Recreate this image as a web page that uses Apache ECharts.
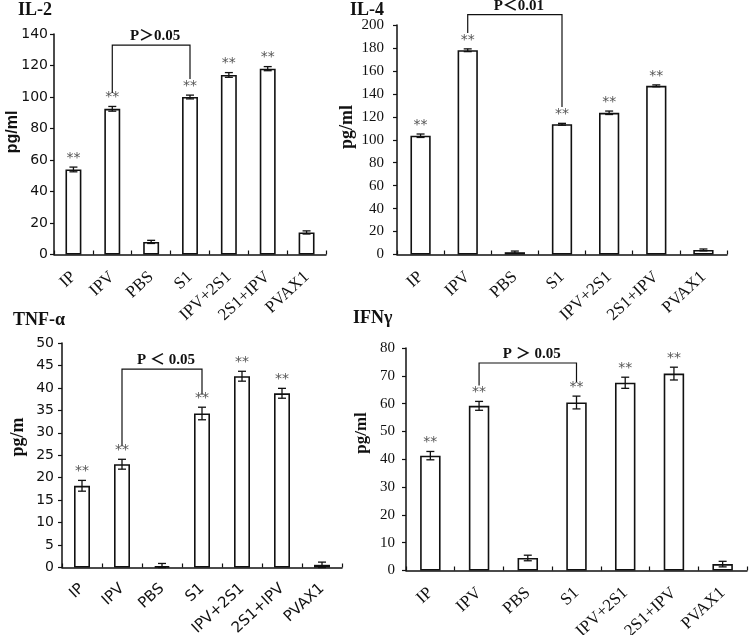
<!DOCTYPE html>
<html>
<head>
<meta charset="utf-8">
<script src="https://cdn.jsdelivr.net/npm/echarts@6/dist/echarts.min.js"></script>
<style>
html,body{margin:0;padding:0;background:#fff;}
#c{width:750px;height:635px;}
</style>
</head>
<body>
<div id="c"></div>
<script>
// ---- data ----
const categories = ['IP', 'IPV', 'PBS', 'S1', 'IPV+2S1', '2S1+IPV', 'PVAX1'];
const stars = ['**', '**', '', '**', '**', '**', ''];

const il2Mean = [54, 92.5, 8, 100, 114, 118, 14];
const il2Err  = [1.5, 1.5, 1, 1.2, 1.5, 1.3, 1];
const il4Mean = [103.5, 178, 2, 113.5, 123.5, 147, 4];
const il4Err  = [1.5, 1.2, 1, 0.8, 1.5, 0.8, 0.8];
const tnfMean = [18.2, 23, 0.3, 34.3, 42.6, 38.8, 0.6];
const tnfErr  = [1.2, 1.1, 0.6, 1.4, 1.1, 1.1, 0.6];
const ifnMean = [41.3, 59.2, 4.5, 60.4, 67.5, 70.8, 2.3];
const ifnErr  = [1.5, 1.6, 1, 2.3, 2, 2.3, 1];

// y-axis ticks [min, max, interval]
const il2Ticks = [0, 140, 20];
const il4Ticks = [0, 200, 20];
const tnfTicks = [0, 50, 5];
const ifnTicks = [0, 80, 10];

// significance brackets: [leftIndex, rightIndex, topValue, leftBottom, rightBottom]
const il2Bracket = [1, 3, 133, 102.5, 111.5];
const il4Bracket = [1, 3, 209, 193, 128.5];
const tnfBracket = [1, 3, 44.2, 27, 38.5];
const ifnBracket = [1, 3, 74.6, 66.5, 67.6];
const il2P = 'P＞0.05';
const il4P = 'P＜0.01';
const tnfP = 'P ＜ 0.05';
const ifnP = 'P ＞ 0.05';

const titles = ['IL-2', 'IL-4', 'TNF-α', 'IFNγ'];
const yNames = ['pg/ml', 'pg/ml', 'pg/m', 'pg/ml'];

// ---- layout / style ----
const SERIF = '"Liberation Serif","Times New Roman",serif';
const SANS = '"DejaVu Sans","Liberation Sans",sans-serif';
const panels = [
  {mean: il2Mean, err: il2Err, ticks: il2Ticks, br: il2Bracket, p: il2P,
   grid: {left: 54, top: 34, width: 272, height: 220.5}, barW: '41%',
   yFont: SANS, ySize: 14, xFont: SERIF, xSize: 17, xMargin: 20, yMargin: 6,
   title: [18, 10], yName: [12.5, 132], yNameFont: 'bold 16px "Liberation Sans",Arial,sans-serif'},
  {mean: il4Mean, err: il4Err, ticks: il4Ticks, br: il4Bracket, p: il4P,
   grid: {left: 397, top: 25, width: 330, height: 229.5}, barW: '43%',
   yFont: SERIF, ySize: 15, xFont: SERIF, xSize: 17, xMargin: 20, yMargin: 13,
   title: [350, 10], yName: [347, 127], yNameFont: 'bold 18px ' + SERIF},
  {mean: tnfMean, err: tnfErr, ticks: tnfTicks, br: tnfBracket, p: tnfP,
   grid: {left: 62, top: 343, width: 280, height: 224.5}, barW: '40%',
   yFont: SANS, ySize: 14, xFont: SANS, xSize: 15, xMargin: 19, yMargin: 8,
   title: [13, 320], yName: [18.5, 437], yNameFont: 'bold 18px ' + SERIF},
  {mean: ifnMean, err: ifnErr, ticks: ifnTicks, br: ifnBracket, p: ifnP,
   grid: {left: 406, top: 348, width: 341, height: 222.5}, barW: '42%',
   yFont: SERIF, ySize: 15, xFont: SERIF, xSize: 17, xMargin: 20, yMargin: 11,
   title: [353, 318], yName: [362, 433], yNameFont: 'bold 17px ' + SERIF}
];

const grid = [], xAxis = [], yAxis = [], series = [], graphic = [];
panels.forEach((pn, k) => {
  grid.push(Object.assign({outerBoundsMode: 'none', containLabel: false}, pn.grid));
  xAxis.push({
    type: 'category', gridIndex: k, data: categories,
    axisLine: {lineStyle: {color: '#111', width: 1.5}},
    axisTick: {show: true, inside: true, length: 4, lineStyle: {color: '#111', width: 1.2}},
    axisLabel: {rotate: 43, margin: pn.xMargin, interval: 0, color: '#111',
      fontFamily: pn.xFont, fontSize: pn.xSize, hideOverlap: false}
  });
  yAxis.push({
    type: 'value', gridIndex: k, min: pn.ticks[0], max: pn.ticks[1], interval: pn.ticks[2],
    axisLine: {show: true, lineStyle: {color: '#111', width: 1.5}},
    axisTick: {show: true, length: 4, lineStyle: {color: '#111', width: 1.2}},
    splitLine: {show: false},
    axisLabel: {margin: pn.yMargin, color: '#111', fontFamily: pn.yFont, fontSize: pn.ySize}
  });
  series.push({
    type: 'bar', xAxisIndex: k, yAxisIndex: k, data: pn.mean, barWidth: pn.barW,
    itemStyle: {color: '#fff', borderColor: '#111', borderWidth: 1.6},
    silent: true, animation: false
  });
  series.push({
    type: 'custom', xAxisIndex: k, yAxisIndex: k, animation: false, silent: true, z: 5,
    data: pn.mean.map((m, i) => [i, m, pn.err[i]]),
    renderItem: function (params, api) {
      const i = api.value(0), m = api.value(1), e = api.value(2);
      const t = api.coord([i, m + e]);
      const b = api.coord([i, Math.max(0, m - e)]);
      const h = 4;
      const st = {stroke: '#111', lineWidth: 1.3};
      const children = [
        {type: 'line', shape: {x1: t[0], y1: t[1], x2: b[0], y2: b[1]}, style: st},
        {type: 'line', shape: {x1: t[0] - h, y1: t[1], x2: t[0] + h, y2: t[1]}, style: st},
        {type: 'line', shape: {x1: b[0] - h, y1: b[1], x2: b[0] + h, y2: b[1]}, style: st}
      ];
      const s = stars[params.dataIndex];
      if (s) {
        children.push({type: 'text', style: {text: s, x: t[0], y: t[1] - 2,
          align: 'center', verticalAlign: 'bottom', fill: '#555',
          font: '14px ' + SANS}});
      }
      return {type: 'group', children: children};
    }
  });
  series.push({
    type: 'custom', xAxisIndex: k, yAxisIndex: k, animation: false, silent: true, clip: false, z: 6,
    data: [pn.br],
    renderItem: function (params, api) {
      const li = api.value(0), ri = api.value(1), top = api.value(2), lb = api.value(3), rb = api.value(4);
      const a = api.coord([li, lb]), at = api.coord([li, top]);
      const c = api.coord([ri, rb]), ct = api.coord([ri, top]);
      return {type: 'group', children: [
        {type: 'polyline', shape: {points: [a, at, ct, c]},
         style: {stroke: '#111', lineWidth: 1.2, fill: null}},
        {type: 'text', style: {text: pn.p, x: (at[0] + ct[0]) / 2 + 4, y: at[1] - 1,
          align: 'center', verticalAlign: 'bottom', fill: '#111',
          font: 'bold 15px ' + SERIF + ',"Noto Sans CJK SC"'}}
      ]};
    }
  });
  graphic.push({type: 'text', x: pn.title[0], y: pn.title[1],
    style: {text: titles[k], font: 'bold 18px ' + SERIF, fill: '#111', verticalAlign: 'middle'}});
  graphic.push({type: 'text', x: pn.yName[0], y: pn.yName[1], rotation: Math.PI / 2,
    style: {text: yNames[k], font: pn.yNameFont, fill: '#111', align: 'center', verticalAlign: 'middle'}});
});

const chart = echarts.init(document.getElementById('c'), null, {renderer: 'canvas'});
chart.setOption({animation: false, backgroundColor: '#fff', grid, xAxis, yAxis, series, graphic});
</script>
</body>
</html>
